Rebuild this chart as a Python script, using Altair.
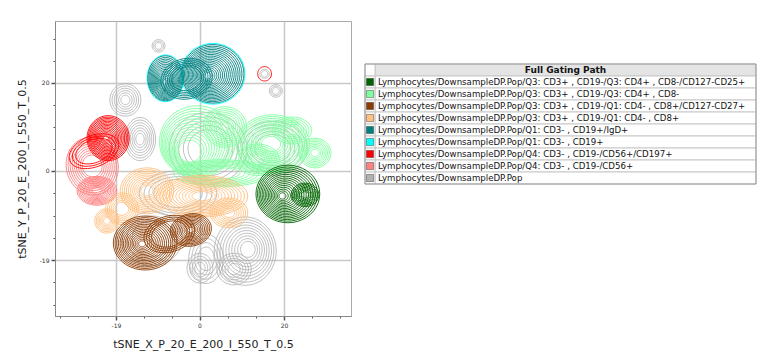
import altair as alt
import pandas as pd

# ---------------- populations (legend order) ----------------
labels = [
    "Lymphocytes/DownsampleDP.Pop/Q3: CD3+ , CD19-/Q3: CD4+ , CD8-/CD127-CD25+",
    "Lymphocytes/DownsampleDP.Pop/Q3: CD3+ , CD19-/Q3: CD4+ , CD8-",
    "Lymphocytes/DownsampleDP.Pop/Q3: CD3+ , CD19-/Q1: CD4- , CD8+/CD127-CD27+",
    "Lymphocytes/DownsampleDP.Pop/Q3: CD3+ , CD19-/Q1: CD4- , CD8+",
    "Lymphocytes/DownsampleDP.Pop/Q1: CD3- , CD19+/IgD+",
    "Lymphocytes/DownsampleDP.Pop/Q1: CD3- , CD19+",
    "Lymphocytes/DownsampleDP.Pop/Q4: CD3- , CD19-/CD56+/CD197+",
    "Lymphocytes/DownsampleDP.Pop/Q4: CD3- , CD19-/CD56+",
    "Lymphocytes/DownsampleDP.Pop",
]
colors = ["#006400", "#80FFA0", "#8B3A00", "#FFC080", "#008080",
          "#00FFFF", "#FF0000", "#FF8080", "#B0B0B0"]
legend_title = "Full Gating Path"
draw_order = [8, 5, 4, 7, 6, 1, 0, 3, 2]

# ---------------- density peaks (tSNE units) ----------------
# population, outer-contour centre (x, y), outer radii (x, y), tilt (deg),
# peak offset from the centre (x, y), number of contour levels,
# innermost level as a fraction of the outer one
blob_pop = [8, 8, 8, 8, 8, 8, 8, 8, 8, 8, 8, 8, 8,
            5, 5,
            4, 4, 4,
            7, 7,
            6, 6, 6,
            1, 1, 1, 1, 1, 1, 1,
            0, 0,
            3, 3, 3, 3, 3,
            2, 2, 2]
blob_cx = [-9.5, -17.2, -13.8, 15.1, 17.7, 10.6, 8.0, 0.1, 2.0, 17.0, -5.0, -11.0, 1.5,
           -7.9, 3.1,
           -7.9, 3.1, -3.0,
           -24.9, -23.8,
           -21.2, 15.1, -24.5,
           -0.5, 5.9, 17.0, 26.8, 5.0, 13.5, 21.5,
           20.5, 24.5,
           -12.2, 0.6, 6.8, -21.5, -18.0,
           -12.6, -2.0, -7.0]
blob_cy = [27.8, 15.8, 7.1, 21.6, 17.8, -17.8, -21.8, -21.6, 5.0, 5.0, -5.0, -15.0, -19.5,
           20.6, 21.6,
           20.6, 21.6, 20.5,
           1.1, -4.4,
           7.3, 21.6, 4.4,
           6.5, 9.8, 6.0, 4.0, -0.5, 2.5, 9.0,
           -5.1, -5.3,
           -4.4, -5.6, -9.3, -11.1, -8.4,
           -16.0, -13.1, -14.0]
blob_rx = [1.5, 3.6, 3.6, 1.1, 1.5, 7.2, 4.0, 3.0, 9.0, 8.0, 9.0, 7.0, 4.0,
           4.25, 7.45,
           4.1, 7.2, 6.0,
           6.0, 4.6,
           4.9, 1.6, 6.0,
           8.8, 5.0, 8.5, 3.7, 11.0, 5.0, 4.5,
           7.4, 3.2,
           6.2, 10.6, 4.4, 2.8, 3.8,
           7.4, 4.8, 6.0]
blob_ry = [1.4, 3.6, 4.8, 1.0, 1.4, 7.6, 3.5, 3.3, 8.0, 6.0, 5.0, 6.0, 5.5,
           5.2, 6.75,
           5.0, 6.5, 4.5,
           6.5, 3.2,
           5.0, 1.6, 3.5,
           8.0, 4.5, 6.5, 3.3, 3.0, 3.5, 3.0,
           6.4, 2.6,
           5.1, 4.6, 3.3, 2.7, 3.5,
           6.0, 3.6, 4.0]
blob_ang = [0, 0, 0, 0, 0, 0, 0, 0, 0, 0, 0, 0, 0,
            0, 0,
            0, 0, 10,
            20, 0,
            0, 0, 20,
            0, 0, 0, 0, 0, 0, 0,
            0, 0,
            0, 0, 0, 0, 0,
            0, 10, 15]
blob_dx = [0, 0, 0, 0, 0, 0.8, 0, 0, 0, 0, 0, 0, 0,
           0, 0,
           -0.2, -1.4, 0,
           0, 0,
           -0.6, 0, 0,
           -2.5, 0, -0.5, 0, 0, 0, 0,
           -1.4, 0,
           0, 0, 0, 0, 0,
           -0.8, 0, 0]
blob_dy = [0, 0, 0, 0, 0, 0.5, 0, 0, 0, 0, 0, 0, 0,
           0, 0,
           -1.0, -0.5, 0,
           0, 0,
           0, 0, 0,
           -3.0, 0, 0, 0, 0, 0, 0,
           -0.5, 0,
           0, 0, 0, 0, 0,
           -0.2, 0, 0]
blob_levels = [3, 6, 7, 2, 3, 10, 5, 4, 5, 5, 4, 3, 4,
               1, 1,
               15, 18, 6,
               9, 11,
               15, 1, 3,
               14, 9, 13, 8, 7, 7, 6,
               16, 7,
               11, 12, 7, 7, 6,
               16, 11, 4]
blob_inner = [0.3, 0.15, 0.15, 0.4, 0.3, 0.15, 0.2, 0.2, 0.4, 0.4, 0.5, 0.5, 0.3,
              1.0, 1.0,
              0.06, 0.06, 0.5,
              0.3, 0.15,
              0.06, 1.0, 0.6,
              0.25, 0.1, 0.2, 0.15, 0.3, 0.2, 0.2,
              0.05, 0.15,
              0.15, 0.15, 0.2, 0.15, 0.3,
              0.05, 0.08, 0.6]

# axis ticks
x_major = [-19.4, 0, 19.6]
x_major_labels = ["-19", "0", "20"]
x_minor = [-32.3, -25.9, -12.93, -6.47, 6.53, 13.07, 26.1, 32.7]
y_major = [-19.78, 0, 19.56]
y_major_labels = ["-19", "0", "20"]
y_minor = [-29.67, -24.72, -14.83, -9.89, -4.94, 4.89, 9.78, 14.67, 24.45, 29.34]
x_title = "tSNE_X_P_20_E_200_I_550_T_0.5"
y_title = "tSNE_Y_P_20_E_200_I_550_T_0.5"

df = pd.DataFrame({
    "pop": blob_pop, "cx": blob_cx, "cy": blob_cy, "rx": blob_rx, "ry": blob_ry,
    "ang": blob_ang, "dx": blob_dx, "dy": blob_dy,
    "rings": blob_levels, "inner": blob_inner,
})
df["blob"] = range(len(df))
df["population"] = [labels[i] for i in blob_pop]

FONT = "DejaVu Sans"


def axis_for(major, major_labels, minor, title, title_pad):
    maj = "[" + ",".join(str(v) for v in major) + "]"
    labs = "[" + ",".join("'" + s + "'" for s in major_labels) + "]"
    test = f"indexof({maj}, datum.value) >= 0"
    return alt.Axis(
        values=sorted(major + minor),
        labelExpr=f"{test} ? {labs}[indexof({maj}, datum.value)] : ''",
        title=title,
        grid=True,
        gridColor="#c8c8c8",
        gridWidth=1.5,
        gridOpacity={"condition": {"test": test, "value": 1}, "value": 0},
        tickSize={"condition": {"test": test, "value": 4}, "value": 2},
        tickWidth={"condition": {"test": test, "value": 1.5}, "value": 1},
        tickColor="#555555",
        domainColor="#888888",
        labelFontSize=6,
        labelColor="#333333",
        labelPadding=2,
        labelFlush=False,
        labelOverlap=False,
        titleFont=FONT,
        titleFontSize=11,
        titleFontWeight="normal",
        titleColor="#222222",
        titlePadding=title_pad,
    )


xscale = alt.Scale(domain=[-33.53, 35.15], nice=False, zero=False)
yscale = alt.Scale(domain=[-32.22, 33.33], nice=False, zero=False)
xaxis = axis_for(x_major, x_major_labels, x_minor, x_title, 10)
yaxis = axis_for(y_major, y_major_labels, y_minor, y_title, 12)

layers = []
for i in draw_order:
    layers.append(
        alt.Chart()
        .transform_filter(alt.datum.pop == i)
        .mark_line(strokeWidth=1, opacity=0.8 if i == 8 else 0.9, clip=True)
        .encode(
            x=alt.X("x:Q", scale=xscale, axis=xaxis),
            y=alt.Y("y:Q", scale=yscale, axis=yaxis),
            color=alt.Color("population:N",
                            scale=alt.Scale(domain=labels, range=colors), legend=None),
            detail="ring:N",
            order="th:Q",
        )
    )

plot = (
    alt.layer(*layers, data=df)
    .transform_calculate(lv="sequence(0, datum.rings)")
    .transform_flatten(["lv"])
    .transform_calculate(th="sequence(0, 6.2833, 6.28318 / 40)")
    .transform_flatten(["th"])
    .transform_calculate(f="1 - (1 - datum.inner) * datum.lv / datum.rings")
    .transform_calculate(a="datum.ang * PI / 180")
    .transform_calculate(
        x="datum.cx + (1 - datum.f) * datum.dx + datum.f * (datum.rx * cos(datum.th) * cos(datum.a) - datum.ry * sin(datum.th) * sin(datum.a))"
    )
    .transform_calculate(
        y="datum.cy + (1 - datum.f) * datum.dy + datum.f * (datum.rx * cos(datum.th) * sin(datum.a) + datum.ry * sin(datum.th) * cos(datum.a))"
    )
    .transform_calculate(ring="datum.blob + '_' + datum.lv")
    .properties(width=296, height=295, view=alt.ViewBackground(stroke="#aaaaaa"))
)

# ---------------- legend table ----------------
leg_keys = [legend_title] + labels
leg_df = pd.DataFrame({
    "key": leg_keys,
    "is_header": [True] + [False] * len(labels),
})
LW = 391
yrow = alt.Y("key:N", scale=alt.Scale(domain=leg_keys, range=[43, 163],
                                      paddingInner=0, paddingOuter=0), axis=None)

cells = alt.Chart().mark_rect(stroke="#c8c8c8", strokeWidth=1).encode(
    x=alt.value(10), x2=alt.value(LW), y=yrow,
    fill=alt.condition(alt.datum.is_header, alt.value("#e4e4e4"), alt.value("#ffffff")),
)
left_cells = alt.Chart().mark_rect(stroke="#c8c8c8", strokeWidth=1, fill="#ffffff").encode(
    x=alt.value(0), x2=alt.value(10), y=yrow,
)
swatches = alt.Chart().transform_filter("!datum.is_header").mark_square(
    size=52, opacity=1, stroke="#444444", strokeWidth=0.5
).encode(
    x=alt.value(5), y=yrow,
    color=alt.Color("key:N", scale=alt.Scale(domain=labels, range=colors), legend=None),
)
row_text = alt.Chart().transform_filter("!datum.is_header").mark_text(
    align="left", baseline="middle", font=FONT, fontSize=8.65, color="#111111"
).encode(x=alt.value(13), y=yrow, text="key:N")
head_text = alt.Chart().transform_filter("datum.is_header").mark_text(
    align="center", baseline="middle", font=FONT, fontSize=9, fontWeight="bold", color="#111111"
).encode(x=alt.value((10 + LW) / 2), y=yrow, text="key:N")
border = alt.Chart().transform_filter("datum.is_header").mark_rect(
    fill="transparent", stroke="#999999", strokeWidth=1
).encode(x=alt.value(0), x2=alt.value(LW), y=alt.value(43), y2=alt.value(163))

legend = alt.layer(cells, left_cells, swatches, row_text, head_text, border, data=leg_df).properties(
    width=LW + 1, height=295, view=alt.ViewBackground(stroke="transparent")
)

chart = (
    alt.hconcat(plot, legend, spacing=12)
    .configure(font=FONT, padding={"left": 7, "top": 12, "right": 2, "bottom": 2})
    .configure_view(strokeWidth=1)
)

chart.save("out.html", embed_options={"renderer": "svg", "actions": False})
